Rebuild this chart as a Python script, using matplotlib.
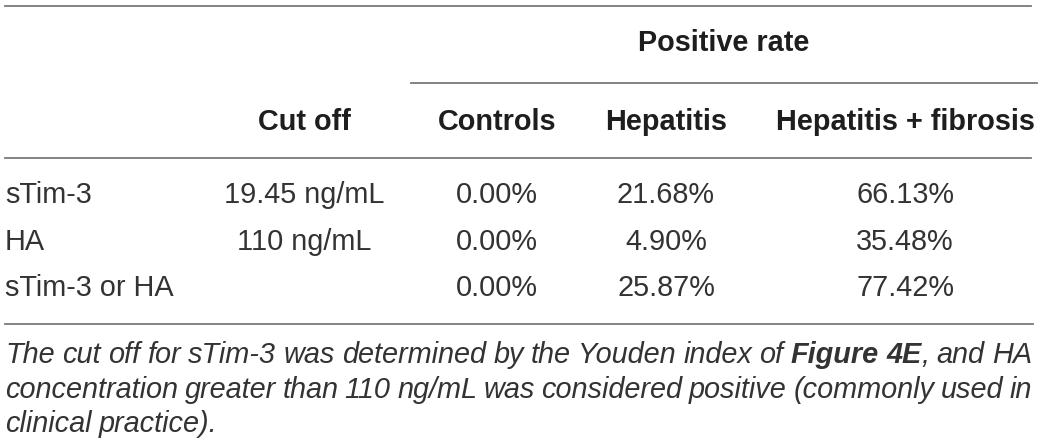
import matplotlib
matplotlib.use("Agg")
import matplotlib.pyplot as plt

# table content
group_title = "Positive rate"
col_headers = ["Cut off", "Controls", "Hepatitis", "Hepatitis + fibrosis"]
row_labels = ["sTim-3", "HA", "sTim-3 or HA"]
cut_offs = ["19.45 ng/mL", "110 ng/mL", ""]
controls = ["0.00%", "0.00%", "0.00%"]
hepatitis = ["21.68%", "4.90%", "25.87%"]
hep_fibrosis = ["66.13%", "35.48%", "77.42%"]

# caption, as (word, bold, space before)
caption_lines = [
    [("The", 0, 1), ("cut", 0, 1), ("off", 0, 1), ("for", 0, 1), ("sTim-3", 0, 1),
     ("was", 0, 1), ("determined", 0, 1), ("by", 0, 1), ("the", 0, 1), ("Youden", 0, 1),
     ("index", 0, 1), ("of", 0, 1), ("Figure", 1, 1), ("4E", 1, 1), (",", 0, 0),
     ("and", 0, 1), ("HA", 0, 1)],
    [("concentration", 0, 1), ("greater", 0, 1), ("than", 0, 1), ("110", 0, 1),
     ("ng/mL", 0, 1), ("was", 0, 1), ("considered", 0, 1), ("positive", 0, 1),
     ("(commonly", 0, 1), ("used", 0, 1), ("in", 0, 1)],
    [("clinical", 0, 1), ("practice).", 0, 1)],
]

W, H = 1045, 447
fig = plt.figure(figsize=(W / 100, H / 100), dpi=100)
ax = fig.add_axes([0, 0, 1, 1])
ax.set_xlim(0, W)
ax.set_ylim(H, 0)
ax.axis("off")

plt.rcParams['font.family'] = ['Liberation Sans', 'DejaVu Sans']
fs = 20.8
dark = "#1e1e1e"
txt = "#333333"
line_c = "#7a7a7a"

# rules
ax.plot([5, 1031], [6, 6], color=line_c, lw=1.3)
ax.plot([411, 1037], [83, 83], color=line_c, lw=1.3)
ax.plot([5, 1031], [158, 158], color=line_c, lw=1.3)
ax.plot([5, 1033], [324, 324], color=line_c, lw=1.3)

# headers
ax.text(724, 43, group_title, ha="center", va="center", fontsize=fs,
        fontweight="bold", color=dark)
col_x = [304, 497, 666, 905]
for x, h in zip(col_x, col_headers):
    ax.text(x, 122, h, ha="center", va="center", fontsize=fs, fontweight="bold", color=dark)

# body
row_y = [195, 242, 288]
for i, y in enumerate(row_y):
    ax.text(5, y, row_labels[i], ha="left", va="center", fontsize=fs, color=txt)
    vals = [cut_offs[i], controls[i], hepatitis[i], hep_fibrosis[i]]
    for x, v in zip(col_x, vals):
        ax.text(x, y, v, ha="center", va="center", fontsize=fs, color=txt)

# caption, justified by hand
fig.canvas.draw()
renderer = fig.canvas.get_renderer()
cap_fs = 20.8
left, right = 5, 1032
base_y = [363, 398, 432]
for li, words in enumerate(caption_lines):
    arts = []
    for w, b, sp in words:
        t = ax.text(0, base_y[li], w, ha="left", va="baseline", fontsize=cap_fs,
                    fontstyle="italic", fontweight="bold" if b else "normal", color=txt)
        arts.append((t, sp))
    widths = [t.get_window_extent(renderer).width for t, _ in arts]
    ngaps = sum(sp for _, sp in arts[1:])
    if li < len(caption_lines) - 1:
        gap = (right - left - sum(widths)) / ngaps
    else:
        gap = 7
    x = left
    for k, (t, sp) in enumerate(arts):
        if k > 0 and sp:
            x += gap
        t.set_x(x)
        x += widths[k]

fig.savefig("out.png", dpi=100)
